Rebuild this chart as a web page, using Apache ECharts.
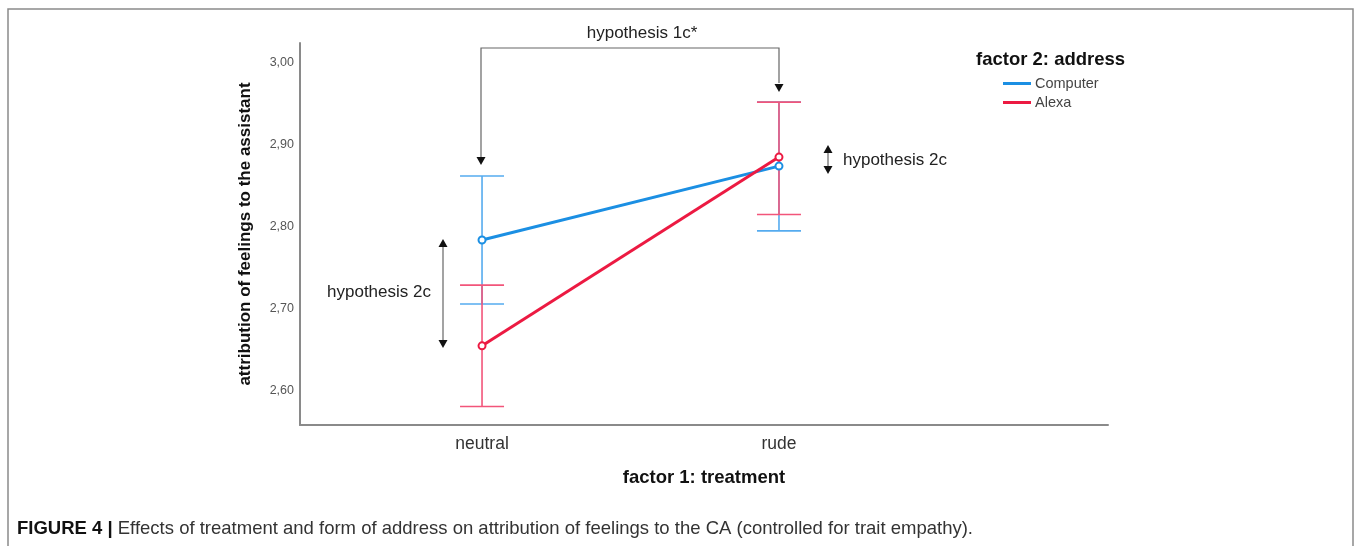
<!DOCTYPE html>
<html><head><meta charset="utf-8">
<script src="https://cdn.jsdelivr.net/npm/echarts@6/dist/echarts.min.js"></script>
<style>html,body{margin:0;padding:0;background:#fff}#c{width:1356px;height:546px}</style>
</head><body><div id="c"></div>
<script>
const categories = ['neutral', 'rude'];
const catPos = [1, 2];
const computerMean = [2.784, 2.874];
const computerLow = [2.706, 2.795];
const computerHigh = [2.862, 2.952];
const alexaMean = [2.655, 2.885];
const alexaLow = [2.581, 2.815];
const alexaHigh = [2.729, 2.952];
const yTicks = [2.6, 2.7, 2.8, 2.9, 3.0];

const FONT = '"Liberation Sans", Arial, sans-serif';
const BLUE = '#1b8fe3', BLUE_L = '#55abef';
const RED = '#ec1a42', RED_L = '#f2557a';

const chart = echarts.init(document.getElementById('c'), null, {renderer: 'canvas'});

function errSeries(name, low, high, color) {
  const data = catPos.map((x, i) => [x, low[i], high[i]]);
  return {
    type: 'custom', name: name + '_err', silent: true, z: 1,
    data: data,
    encode: {x: 0, y: [1, 2]},
    renderItem: function (params, api) {
      const x = api.value(0);
      const lo = api.coord([x, api.value(1)]);
      const hi = api.coord([x, api.value(2)]);
      const hw = 22;
      const st = {stroke: color, lineWidth: 1.6};
      return {type: 'group', children: [
        {type: 'line', shape: {x1: lo[0], y1: lo[1], x2: hi[0], y2: hi[1]}, style: st},
        {type: 'line', shape: {x1: lo[0]-hw, y1: lo[1], x2: lo[0]+hw, y2: lo[1]}, style: st},
        {type: 'line', shape: {x1: hi[0]-hw, y1: hi[1], x2: hi[0]+hw, y2: hi[1]}, style: st}
      ]};
    }
  };
}

function tri(x, y, dir) { // tip at (x,y)
  const w = 4.5, h = 8;
  const pts = dir === 'down' ? [[x-w, y-h], [x+w, y-h], [x, y]] : [[x-w, y+h], [x+w, y+h], [x, y]];
  return {type: 'polygon', shape: {points: pts}, style: {fill: '#111'}};
}
function vline(x, y1, y2) {
  return {type: 'line', shape: {x1: x, y1: y1, x2: x, y2: y2}, style: {stroke: '#666', lineWidth: 1.2}};
}

const option = {
  animation: false,
  backgroundColor: '#fff',
  grid: {left: 300, top: 43, right: 248, bottom: 121, containLabel: false},
  xAxis: {
    type: 'value', min: 0.387, max: 3.108,
    axisLine: {show: true, lineStyle: {color: '#8a8a8a', width: 2}},
    axisTick: {show: false},
    splitLine: {show: false},
    axisLabel: {customValues: catPos, formatter: v => categories[catPos.indexOf(v)] || '',
      color: '#333', fontFamily: FONT, fontSize: 17.5, margin: 10},
    name: 'factor 1: treatment', nameLocation: 'middle', nameGap: 43,
    nameTextStyle: {color: '#111', fontFamily: FONT, fontSize: 18.5, fontWeight: 'bold'}
  },
  yAxis: {
    type: 'value', min: 2.5585, max: 3.024,
    axisLine: {show: true, lineStyle: {color: '#8a8a8a', width: 2}},
    axisTick: {show: false},
    splitLine: {show: false},
    axisLabel: {customValues: yTicks, formatter: v => v.toFixed(2).replace('.', ','),
      color: '#555', fontFamily: FONT, fontSize: 12.5, margin: 6},
    name: 'attribution of feelings to the assistant', nameLocation: 'middle', nameGap: 46,
    nameTextStyle: {color: '#111', fontFamily: FONT, fontSize: 17, fontWeight: 'bold'}
  },
  legend: {
    left: 1003, top: 76, padding: 0, orient: 'vertical', itemWidth: 28, itemHeight: 3, itemGap: 4,
    icon: 'rect', data: ['Computer', 'Alexa'],
    textStyle: {color: '#444', fontFamily: FONT, fontSize: 14.5, padding: [0, 0, 0, -1]}
  },
  series: [
    errSeries('Computer', computerLow, computerHigh, BLUE_L),
    errSeries('Alexa', alexaLow, alexaHigh, RED_L),
    {type: 'line', name: 'Computer', data: catPos.map((x, i) => [x, computerMean[i]]),
      lineStyle: {color: BLUE, width: 3}, itemStyle: {color: BLUE}, color: BLUE,
      symbol: 'emptyCircle', symbolSize: 7, z: 3},
    {type: 'line', name: 'Alexa', data: catPos.map((x, i) => [x, alexaMean[i]]),
      lineStyle: {color: RED, width: 3}, itemStyle: {color: RED}, color: RED,
      symbol: 'emptyCircle', symbolSize: 7, z: 4}
  ],
  graphic: [
    {type: 'rect', shape: {x: 8, y: 9, width: 1345, height: 700}, style: {fill: 'none', stroke: '#8a8a8a', lineWidth: 1.5}, silent: true},
    {type: 'text', x: 976, y: 60, style: {text: 'factor 2: address', fill: '#111', font: 'bold 18.5px ' + FONT, verticalAlign: 'middle'}},
    // bracket hypothesis 1c*
    {type: 'polyline', shape: {points: [[481, 157], [481, 48], [779, 48], [779, 83]]}, style: {fill: 'none', stroke: '#666', lineWidth: 1.2}},
    tri(481, 165, 'down'), tri(779, 92, 'down'),
    {type: 'text', x: 642, y: 33, style: {text: 'hypothesis 1c*', fill: '#222', font: '17px ' + FONT, align: 'center', verticalAlign: 'middle'}},
    // left hypothesis 2c
    vline(443, 246, 341), tri(443, 239, 'up'), tri(443, 348, 'down'),
    {type: 'text', x: 379, y: 292, style: {text: 'hypothesis 2c', fill: '#222', font: '17px ' + FONT, align: 'center', verticalAlign: 'middle'}},
    // right hypothesis 2c
    vline(828, 151, 168), tri(828, 145, 'up'), tri(828, 174, 'down'),
    {type: 'text', x: 843, y: 160, style: {text: 'hypothesis 2c', fill: '#222', font: '17px ' + FONT, align: 'left', verticalAlign: 'middle'}},
    // caption
    {type: 'text', x: 17, y: 529, style: {
      text: '{b|FIGURE 4 |}{n| Effects of treatment and form of address on attribution of feelings to the CA (controlled for trait empathy).}',
      verticalAlign: 'middle',
      rich: {b: {font: 'bold 18.5px ' + FONT, fill: '#111'}, n: {font: '18.5px ' + FONT, fill: '#333'}}
    }}
  ]
};
chart.setOption(option);
</script></body></html>
